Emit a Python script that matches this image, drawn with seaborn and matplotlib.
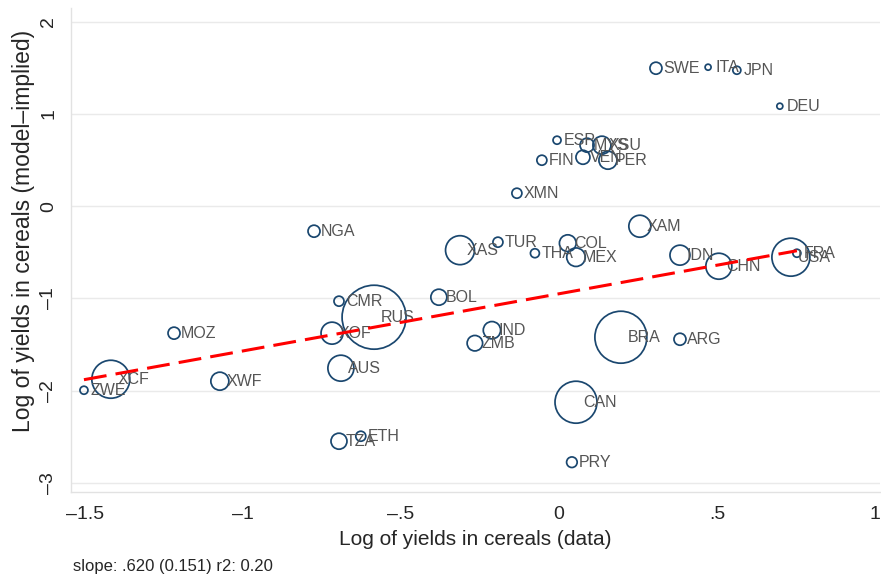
"""
Model-implied vs. observed cereal yields (log), by country/region
Bubble size ~ weight, dashed line = weighted fit
"""

import numpy as np
import pandas as pd
import matplotlib
matplotlib.use("Agg")
import matplotlib.pyplot as plt
import seaborn as sns

# data
countries = ["SWE", "ITA", "JPN", "DEU", "ESP", "MYS", "XSU", "FIN", "VEN", "PER",
             "XMN", "NGA", "XAS", "TUR", "THA", "COL", "MEX", "XAM", "IDN", "CHN",
             "USA", "FRA", "CMR", "RUS", "XOF", "BOL", "IND", "ZMB", "AUS", "MOZ",
             "XCF", "ZWE", "XWF", "BRA", "ARG", "CAN", "TZA", "ETH", "PRY"]
log_yield_data = [0.307, 0.472, 0.563, 0.699, -0.006, 0.089, 0.136, -0.054, 0.076, 0.155,
                  -0.133, -0.775, -0.313, -0.193, -0.076, 0.028, 0.054, 0.256, 0.383, 0.506,
                  0.734, 0.753, -0.696, -0.585, -0.718, -0.380, -0.212, -0.266, -0.690, -1.218,
                  -1.418, -1.503, -1.073, 0.196, 0.383, 0.054, -0.696, -0.627, 0.041]
log_yield_model = [1.497, 1.508, 1.475, 1.085, 0.716, 0.662, 0.662, 0.499, 0.531, 0.499,
                   0.141, -0.271, -0.477, -0.390, -0.510, -0.401, -0.553, -0.217, -0.531, -0.651,
                   -0.553, -0.510, -1.030, -1.204, -1.377, -0.987, -1.345, -1.486, -1.757, -1.377,
                   -1.877, -1.996, -1.898, -1.421, -1.443, -2.126, -2.549, -2.495, -2.777]
weights = [36, 9, 16, 9, 16, 49, 81, 25, 49, 81,
           25, 36, 210, 25, 20, 70, 86, 121, 100, 169,
           361, 16, 25, 1024, 121, 64, 75, 60, 169, 36,
           361, 16, 81, 676, 36, 441, 64, 25, 28]

fit_slope = 0.620
fit_intercept = -0.95
footnote = "slope: .620 (0.151) r2: 0.20"

xticks = [-1.5, -1, -0.5, 0, 0.5, 1]
xtick_labels = ["\u20131.5", "\u20131", "\u2013.5", "0", ".5", "1"]
yticks = [-3, -2, -1, 0, 1, 2]
ytick_labels = ["\u20133", "\u20132", "\u20131", "0", "1", "2"]

df = pd.DataFrame({"country": countries, "x": log_yield_data,
                   "y": log_yield_model, "wt": weights})

sns.set_style("white")
plt.rcParams["font.family"] = ["Liberation Sans", "DejaVu Sans"]

navy = "#1a476f"
W, H = 881, 576
fig = plt.figure(figsize=(W / 100, H / 100), dpi=100)
ax = fig.add_axes([71 / W, 1 - 492 / H, (880 - 71) / W, (492 - 8) / H])

# marker area proportional to weight (s in pt^2)
k = 2.07
wmin, wmax = df["wt"].min(), df["wt"].max()
sns.scatterplot(data=df, x="x", y="y", size="wt", sizes=(k * wmin, k * wmax),
                size_norm=(wmin, wmax), legend=False, ax=ax,
                fc="none", ec=navy, linewidth=1.25, zorder=3)

for _, row in df.iterrows():
    ax.annotate(row["country"], (row["x"], row["y"]), xytext=(5, 0),
                textcoords="offset points", va="center", ha="left",
                fontsize=11.5, color="#555555", zorder=4)

# fitted line over the range of the data
xs = np.array([df["x"].min(), df["x"].max()])
sns.lineplot(x=xs, y=fit_intercept + fit_slope * xs, ax=ax, color="red",
             lw=2.2, dashes=False, zorder=5).lines[-1].set_dashes((7.5, 3))

ax.set_xlim(-1.544, 1.016)
ax.set_ylim(-3.10, 2.15)
ax.set_xticks(xticks)
ax.set_xticklabels(xtick_labels, fontsize=14)
ax.set_yticks(yticks)
ax.set_yticklabels(ytick_labels, fontsize=14, rotation=90, va="center")
ax.tick_params(axis="both", length=6, width=1, color="black", direction="out")
ax.tick_params(axis="x", pad=4)
ax.tick_params(axis="y", pad=4)

ax.yaxis.grid(True, color="#eaeaea", lw=1)
ax.xaxis.grid(False)
ax.set_axisbelow(True)
for side in ["top", "right"]:
    ax.spines[side].set_visible(False)
for side in ["left", "bottom"]:
    ax.spines[side].set_color("#e2e2e2")
    ax.spines[side].set_linewidth(1)

ax.set_xlabel("Log of yields in cereals (data)", fontsize=15)
ax.set_ylabel("Log of yields in cereals (model\u2013implied)", fontsize=16.5)
ax.xaxis.set_label_coords(0.5, -0.078)
ax.yaxis.set_label_coords(-0.044, 0.539)

fig.text(73 / W, 1 - 566 / H, footnote, fontsize=12, va="center", ha="left")

plt.savefig("out.png", dpi=100)
